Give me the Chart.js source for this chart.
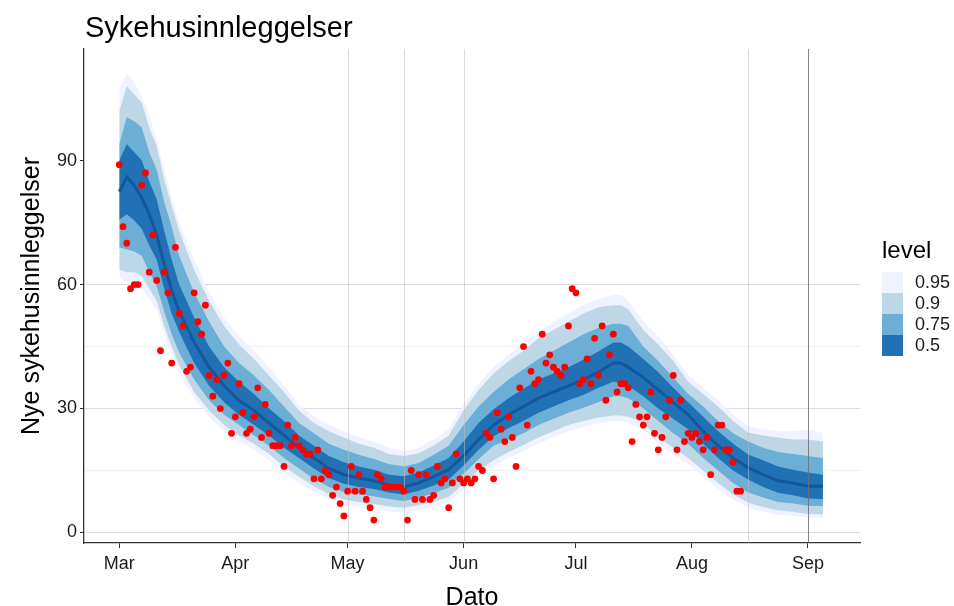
<!DOCTYPE html>
<html>
<head>
<meta charset="utf-8">
<script src="https://cdn.jsdelivr.net/npm/chart.js@4.4.0/dist/chart.umd.min.js"></script>
<style>
html,body{margin:0;padding:0;background:#fff;}
#wrap{width:954px;height:606px;}
</style>
</head>
<body>
<div id="wrap"><canvas id="c" width="954" height="606"></canvas></div>
<script>
// ---------------- DATA ----------------
const startDate = '2020-03-01';
const title = 'Sykehusinnleggelser';
const yTitle = 'Nye sykehusinnleggelser';
const xTitle = 'Dato';
const legendTitle = 'level';
const levels = ['0.95', '0.9', '0.75', '0.5'];

const monthTickDates = ['2020-03-01','2020-04-01','2020-05-01','2020-06-01','2020-07-01','2020-08-01','2020-09-01'];
const monthTickLabels = ['Mar','Apr','May','Jun','Jul','Aug','Sep'];
const yTickValues = [0, 15, 30, 45, 60, 75, 90, 105];
const yLabelled = [0, 30, 60, 90];

const markerDatesLight = ['2020-05-01','2020-05-16','2020-06-01','2020-08-16'];
const markerDatesDark = ['2020-09-01'];

// observed daily admissions from startDate
const observed = [89,74,70,59,60,60,84,87,63,72, 61,44,63,58,41,69,53,50,39,40,
  58,51,48,55,38,33,37,30,38,41, 24,28,36,29,24,25,28,35,23,31,
  24,21,21,21,16,26,21,23,21,20, 19,19,13,20,13,15,14,9,11,7,
  4,10,16,10,14,10,8,6,3,14, 13,11,11,11,11,11,10,3,15,8,
  14,8,14,8,9,16,12,13,6,12, 19,13,12,13,12,13,16,15,24,23,
  13,29,25,22,28,23,16,35,45,26, 39,36,37,48,41,43,40,39,38,40,
  50,59,58,36,37,42,36,47,38,50, 32,43,48,34,36,36,35,22,31,28,
  26,28,34,24,20,23,28,32,38,20, 32,22,24,23,24,22,20,23,14,20,
  26,26,20,20,17,10,10];

const bandDates = ['2020-03-01','2020-03-03','2020-03-05','2020-03-07','2020-03-09','2020-03-11','2020-03-13','2020-03-15','2020-03-17',
  '2020-03-21','2020-03-25','2020-03-29','2020-04-02','2020-04-06','2020-04-10','2020-04-14','2020-04-18','2020-04-22','2020-04-26',
  '2020-04-30','2020-05-04','2020-05-08','2020-05-12','2020-05-16','2020-05-20','2020-05-24','2020-05-28','2020-06-01','2020-06-05',
  '2020-06-09','2020-06-13','2020-06-17','2020-06-21','2020-06-25','2020-06-29','2020-07-03','2020-07-07','2020-07-11','2020-07-13',
  '2020-07-15','2020-07-19','2020-07-23','2020-07-27','2020-07-31','2020-08-04','2020-08-08','2020-08-12','2020-08-16','2020-08-20',
  '2020-08-24','2020-08-28','2020-09-01','2020-09-05'];

const median = [82.5,86,84,81,77,72,65,58.5,53.5, 46,40,35.5,32,29.5,26.5,23.5,20.5,18,15.5,
  14,13.2,12.5,11.5,11,12,13.5,15.2,18.5,22.5, 26,28.5,30.5,32.5,34,35.5,37,38.8,41,41,
  40,37.5,34.5,31.5,28.5,24.5,21,18,15.7,14, 12.5,12,11.2,11.2];
const q975 = [107,111,109,105.5,101,95,88,81,75, 66,58,52,47.5,44,40,35.5,31,28,26,
  24.5,23,22,20.5,19.7,20.5,22.5,25,31,36, 40,43,46,48.5,51,53,55,56.5,57.5,57.5,
  56,51,47.5,43,38,35,32,28.5,25.7,25, 24.5,24.5,25,24];
const q95 = [102,108,106,104,98,93.5,85.5,79,73, 63.5,56,50,45.5,42,38,34,29.5,26.5,24.5,
  23,21.5,20.5,19,18.5,19.2,21,23.5,29.5,34.5, 38.5,41.5,44,47,49,51,53,54.5,55,55,
  54,49,45.5,41.5,36.5,33.5,30.5,27,24.2,23.5, 23,22.5,22.5,22];
const q875 = [94,100.5,99.5,98,92,87.8,80,74,67, 58,51,45,41,38,34.5,30.5,26.5,24,21.5,
  20,18.8,17.8,16.6,16,16.8,18.8,21,26,30.5, 34,37,39.5,42,44,46,48,49.5,50.5,50.5,
  50,45,41.5,37.5,33.5,30.5,27,24,22,20.5, 19.5,19,18.5,18];
const q75 = [90,94,92,90,85,80.6,73,66,60, 52,45,40,36.5,33.5,30,27,23.5,21,18.5,
  17,16,15.2,14,13.6,14.5,16.2,18,22,26.5, 29.8,32.5,34.8,37,38.5,40,41.8,43.8,46,46,
  45,42,38.8,35,31.5,28,24.5,21.5,18.9,17.5, 16,15.2,14.5,14];
const q25 = [75.7,77,75.5,73.5,69.5,66,59,53,48.5, 41,35.5,31.5,28.5,26,23.5,20.5,18,15.5,13.2,
  11.8,11,10.5,9.7,9.2,10.1,11.4,12.8,16.2,20, 23.3,25.3,27,29,30.5,32,33.3,35,36.5,36.2,
  35.5,33,30,27.5,25,21.5,18,15,12.8,11, 9.6,9,8.2,8.1];
const q125 = [69,68.5,68,67,63,59.6,53.5,48,43.5, 37,32,28.5,26,23.5,21,18,15.5,13,11,
  9.8,9.2,8.8,8.1,7.6,8.4,9.5,10.8,14.2,17.8, 21,22.5,24,26,27.5,29,30.2,31.5,33,33,
  32.5,30,27,24,21.5,18,15,12,9.7,8.5, 7.4,7,6.5,6.4];
const q05 = [63.6,63,63,62,59,56,50,45,40.5, 34,29.5,26,23.5,21.5,19,16,13.5,11.2,9.3,
  8,7.4,6.9,6.3,6,6.6,7.5,8.6,11.8,15, 17.5,19.5,21.2,23,24.5,26,27,27.8,28.3,28.3,
  28,26.5,23,20.5,18,15,12,9.2,7.2,6.2, 5.3,5,4.5,4.4];
const q025 = [62,60.5,59.5,58.8,56.5,54,48,43,38.5, 32.5,28,24.5,22,20,17.5,14.5,12,10,8.2,
  6.8,6.2,5.6,5.1,4.8,5.4,6.2,7.3,10.5,13.5, 16,18,19.8,21.5,23,24.5,25.5,26.5,27,27,
  26.5,25,21.5,19,16.5,13.5,10.5,8,6,5, 4.3,4,3.7,3.6];

// ---------------- helpers ----------------
const DAY = 86400000;
const t0 = Date.parse(startDate + 'T00:00:00Z');
const dayOf = s => (Date.parse(s + 'T00:00:00Z') - t0) / DAY;
const bandX = bandDates.map(dayOf);
const series = arr => arr.map((v, i) => ({x: bandX[i], y: v}));
const obsPts = observed.map((v, i) => ({x: i, y: v}));
const monthTicks = monthTickDates.map(dayOf);

const colors = {'0.95': '#EFF3FF', '0.9': '#BDD7E7', '0.75': '#6BAED6', '0.5': '#2171B5'};
const FONT = "'Liberation Sans', Arial, Helvetica, sans-serif";

function edge(arr, ord) {
  return {type: 'line', data: series(arr), borderWidth: 0, pointRadius: 0, fill: false, order: ord, tension: 0};
}
function upper(arr, ord, col) {
  return {type: 'line', data: series(arr), borderWidth: 0, pointRadius: 0, fill: '-1', backgroundColor: col, order: ord, tension: 0};
}

const datasets = [
  edge(q025, 5), upper(q975, 5, colors['0.95']),
  edge(q05, 4), upper(q95, 4, colors['0.9']),
  edge(q125, 3), upper(q875, 3, colors['0.75']),
  edge(q25, 2), upper(q75, 2, colors['0.5']),
  {type: 'line', data: series(median), borderColor: '#11579c', borderWidth: 3, pointRadius: 0, fill: false, order: 1, tension: 0},
  {type: 'scatter', data: obsPts, backgroundColor: '#FF0000', borderWidth: 0, pointRadius: 3.4, order: 0}
];
const MEDIAN_INDEX = 8;

const deco = {
  id: 'deco',
  afterDatasetDraw(chart, args) {
    if (args.index !== MEDIAN_INDEX) return;
    const {ctx, chartArea: a, scales: {x}} = chart;
    ctx.save();
    ctx.lineWidth = 1;
    ctx.strokeStyle = 'rgba(190,190,190,0.55)';
    markerDatesLight.forEach(d => {
      const px = Math.round(x.getPixelForValue(dayOf(d))) + 0.5;
      ctx.beginPath(); ctx.moveTo(px, a.top); ctx.lineTo(px, a.bottom); ctx.stroke();
    });
    ctx.strokeStyle = 'rgba(110,110,110,0.85)';
    markerDatesDark.forEach(d => {
      const px = Math.round(x.getPixelForValue(dayOf(d))) + 0.5;
      ctx.beginPath(); ctx.moveTo(px, a.top); ctx.lineTo(px, a.bottom); ctx.stroke();
    });
    ctx.restore();
  },
  afterDraw(chart) {
    const {ctx, chartArea: a} = chart;
    ctx.save();
    ctx.fillStyle = '#000';
    // title
    ctx.font = '29px ' + FONT;
    ctx.textAlign = 'left'; ctx.textBaseline = 'alphabetic';
    ctx.fillText(title, a.left + 1, 37);
    // x title
    ctx.font = '25px ' + FONT;
    ctx.textAlign = 'center';
    ctx.fillText(xTitle, (a.left + a.right) / 2, 605);
    // y title
    ctx.save();
    ctx.translate(39, (a.top + a.bottom) / 2);
    ctx.rotate(-Math.PI / 2);
    ctx.fillText(yTitle, 0, 0);
    ctx.restore();
    // legend
    ctx.textAlign = 'left';
    ctx.font = '24px ' + FONT;
    ctx.fillText(legendTitle, 882, 258);
    ctx.font = '18px ' + FONT;
    ctx.textBaseline = 'middle';
    const bx = 882, bw = 21, bh = 21, by0 = 272;
    levels.forEach((lv, i) => {
      ctx.fillStyle = colors[lv];
      ctx.fillRect(bx, by0 + i * bh, bw, bh);
      ctx.fillStyle = '#1a1a1a';
      ctx.fillText(lv, 915, by0 + i * bh + bh / 2 + 1);
    });
    ctx.restore();
  }
};

new Chart(document.getElementById('c'), {
  type: 'line',
  data: {datasets},
  options: {
    responsive: false,
    animation: false,
    devicePixelRatio: 1,
    layout: {padding: {top: 49, right: 94, left: 0, bottom: 0}},
    plugins: {legend: {display: false}, title: {display: false}, tooltip: {enabled: false}, filler: {propagate: false}},
    scales: {
      x: {
        type: 'linear', min: -9.43, max: 197.9,
        afterFit: s => { s.height = 63; },
        afterBuildTicks: s => { s.ticks = monthTicks.map(v => ({value: v})); },
        grid: {drawOnChartArea: false, drawTicks: true, tickLength: 5, tickColor: '#333', tickWidth: 1},
        border: {display: true, color: '#333', width: 1.3},
        ticks: {
          autoSkip: false, maxRotation: 0, padding: 5, color: '#1a1a1a',
          font: {family: FONT, size: 18},
          callback: v => { const i = monthTicks.indexOf(v); return i >= 0 ? monthTickLabels[i] : ''; }
        }
      },
      y: {
        type: 'linear', min: -2.54, max: 117,
        afterFit: s => { s.width = 84; },
        afterBuildTicks: s => { s.ticks = yTickValues.map(v => ({value: v})); },
        grid: {
          drawOnChartArea: true, drawTicks: true, tickLength: 4, tickWidth: 1,
          color: c => { const v = c.tick && c.tick.value; if (v === 0 || v === 30 || v === 60) return '#dcdcdc'; if (v === 15 || v === 45) return '#efefef'; return 'rgba(0,0,0,0)'; },
          tickColor: c => { const v = c.tick && c.tick.value; return yLabelled.includes(v) ? '#333' : 'rgba(0,0,0,0)'; }
        },
        border: {display: true, color: '#333', width: 1.3},
        ticks: {
          autoSkip: false, padding: 3, color: '#1a1a1a',
          font: {family: FONT, size: 18},
          callback: v => yLabelled.includes(v) ? String(v) : ''
        }
      }
    }
  },
  plugins: [deco]
});
</script>
</body>
</html>
